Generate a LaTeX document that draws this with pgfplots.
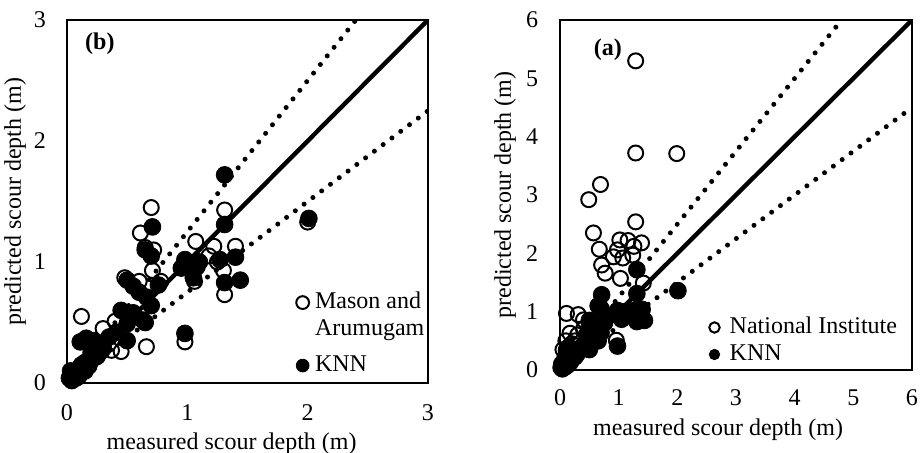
\documentclass[border=0pt]{standalone}
\usepackage{fontspec}
\setmainfont{Liberation Serif}
\usepackage{pgfplots}
\pgfplotsset{compat=1.18}
\pgfplotstableread{
x y
0.02 0.04
0.05 0.07
0.08 0.10
0.10 0.12
0.12 0.15
0.15 0.17
0.20 0.20
0.25 0.22
0.28 0.26
0.30 0.30
0.04 0.02
0.06 0.09
0.10 0.06
0.15 0.10
0.18 0.14
0.20 0.25
0.03 0.10
1.31 1.72
0.71 1.29
1.31 1.31
0.98 1.02
1.08 0.96
1.27 1.02
1.40 1.04
1.44 0.85
1.31 0.83
1.05 0.87
0.76 0.81
0.65 1.10
0.70 1.05
0.66 0.71
0.70 0.64
0.98 0.41
0.65 0.50
0.16 0.37
0.11 0.34
0.22 0.35
0.25 0.30
0.41 0.42
0.35 0.38
0.50 0.49
0.50 0.35
0.63 0.52
0.55 0.58
0.45 0.60
0.50 0.85
0.55 0.80
0.60 0.75
2.01 1.36
0.95 0.95
1.10 1.00
}\knn
\pgfplotstableread{
x y
0.12 0.55
0.61 1.24
0.70 1.45
0.72 1.10
0.71 0.93
0.78 0.84
0.48 0.87
0.60 0.84
1.07 1.17
1.31 1.43
1.22 1.13
1.40 1.13
1.31 0.73
1.30 0.93
1.25 1.00
1.18 1.05
1.06 0.84
1.00 1.00
0.98 0.34
0.66 0.30
0.45 0.26
0.37 0.27
0.40 0.51
0.30 0.45
0.55 0.55
2.00 1.33
0.30 0.28
0.25 0.22
0.20 0.18
0.15 0.14
0.10 0.10
0.05 0.06
0.08 0.04
0.65 1.12
}\mason
\pgfplotstableread{
x y
1.29 5.30
1.29 3.72
1.99 3.71
0.69 3.18
0.49 2.92
1.29 2.54
0.57 2.35
0.67 2.07
1.02 2.23
1.16 2.22
1.39 2.18
1.26 2.12
0.98 2.06
1.24 1.97
0.91 1.94
1.07 1.92
0.71 1.80
0.77 1.66
1.03 1.57
1.42 1.49
0.11 0.97
0.31 0.95
0.40 0.86
0.17 0.63
0.96 0.51
0.05 0.10
0.08 0.20
0.12 0.30
0.15 0.40
0.20 0.45
0.25 0.50
0.30 0.60
0.40 0.70
0.50 0.80
0.02 0.05
0.05 0.35
0.10 0.50
}\nati
\begin{document}
\begin{tikzpicture}[font=\fontsize{12}{14}\selectfont]
\useasboundingbox (0,0) rectangle (461pt,226pt);
\pgfplotsset{
  scour/.style={
    scale only axis,
    axis line style={line width=1pt},
    major tick length=0pt,
    /pgf/number format/assume math mode=true,
    tick label style={font=\fontsize{12}{14}\selectfont},
    xticklabel style={anchor=center, yshift=-15pt},
    yticklabel style={anchor=center, xshift=-13.5pt},
    legend cell align=left,
  },
  openm/.style={only marks, mark=o, mark options={line width=1pt, draw=black, fill=none}},
  fullm/.style={only marks, mark=*, mark options={draw=none, fill=black}},
  dotl/.style={black, line width=2.5pt, line cap=round, dash pattern=on 0pt off 5.5pt, forget plot},
  solidl/.style={black, line width=2.2pt, forget plot},
}
% ---------- left panel (b)
\begin{axis}[scour,
  at={(33.5pt,34.5pt)}, anchor=south west,
  width=180.5pt, height=181.5pt,
  xmin=0, xmax=3, ymin=0, ymax=3,
  xtick={0,1,2,3}, ytick={0,1,2,3},
  xlabel={measured scour depth (m)},
  ylabel={predicted scour depth (m)},
  xlabel style={at={(axis description cs:0.456,-0.166)}, anchor=center},
  ylabel style={at={(axis description cs:-0.144,0.5)}, anchor=center, rotate=0},
  legend image code/.code={\draw[#1, mark size=3.2pt] plot coordinates {(0pt,0pt)};},
  legend style={draw=none, fill=none, at={(axis description cs:0.634,0.253)}, anchor=north west,
    inner sep=0pt, column sep=3pt, row sep=20.5pt,
    nodes={inner sep=0pt, text height=8.5pt, text depth=2.5pt},
    font=\fontsize{12}{14}\selectfont},
]
\addplot[solidl] coordinates {(0,0) (3,3)};
\addplot[dotl] coordinates {(0,0) (2.4,3)};
\addplot[dotl] coordinates {(0,0) (3,2.25)};
\addplot[openm, mark size=3.75pt] table {\mason};
\addlegendentry{\rlap{\raisebox{-13.5pt}[0pt][0pt]{Arumugam}}Mason and}
\addplot[fullm, mark size=4.2pt] table {\knn};
\addlegendentry{KNN}
\node[font=\bfseries\fontsize{12}{14}\selectfont] at (axis description cs:0.091,0.935) {(b)};
\end{axis}
% ---------- right panel (a)
\begin{axis}[scour,
  at={(280pt,41pt)}, anchor=south west,
  width=176pt, height=175pt,
  xmin=0, xmax=6, ymin=0, ymax=6,
  xtick={0,1,2,3,4,5,6}, ytick={0,1,2,3,4,5,6},
  yticklabel style={xshift=-0.5pt},
  xticklabel style={yshift=1pt},
  xlabel={measured scour depth (m)},
  ylabel={predicted scour depth (m)},
  xlabel style={at={(axis description cs:0.449,-0.171)}, anchor=center},
  ylabel style={at={(axis description cs:-0.156,0.5)}, anchor=center, rotate=0},
  legend image code/.code={\draw[#1, mark size=2.6pt] plot coordinates {(0pt,0pt)};},
  legend style={draw=none, fill=none, at={(axis description cs:0.423,0.154)}, anchor=north west,
    inner sep=0pt, column sep=5pt, row sep=2.5pt,
    nodes={inner sep=0pt, text height=8.5pt, text depth=2.5pt},
    font=\fontsize{12}{14}\selectfont},
]
\addplot[solidl] coordinates {(0,0) (6,6)};
\addplot[dotl] coordinates {(0,0) (4.8,6)};
\addplot[dotl] coordinates {(0,0) (6,4.5)};
\addplot[openm, mark size=3.75pt] table {\nati};
\addlegendentry{National Institute}
\addplot[fullm, mark size=4.2pt] table {\knn};
\addlegendentry{KNN}
\node[font=\bfseries\fontsize{12}{14}\selectfont] at (axis description cs:0.136,0.914) {(a)};
\end{axis}
\end{tikzpicture}
\end{document}
